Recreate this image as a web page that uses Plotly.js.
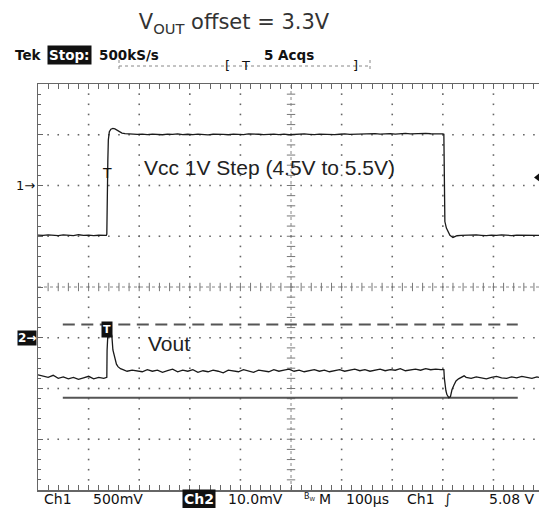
<!DOCTYPE html>
<html><head><meta charset="utf-8">
<script src="https://cdn.plot.ly/plotly-3.0.1.min.js"></script>
<style>html,body{margin:0;padding:0;background:#fff}</style>
</head><body>
<div id="chart" style="width:539px;height:508px"></div>
<script>
// ---- Data (time in µs relative to trigger, Ch1 in V, Ch2 in V) ----
const ch1Time = [-136,-126,-116,-106,-96,-86,-76,-66,-56,-46,-36,-26,-16,-6,-1,
  0,0.5,2,3,5,8,12,16,20,25,30,36,44,52,
  60,70,80,90,100,110,120,130,140,150,
  160,170,180,190,200,210,220,230,240,250,
  260,270,280,290,300,310,320,330,340,350,
  360,370,380,390,400,410,420,430,440,450,
  460,470,480,490,500,510,520,530,540,550,
  560,570,580,590,600,610,620,630,640,650,
  660,
  664,666,666.5,667,668,671,674,678,684,688,692,700,
  710,720,730,740,750,760,770,780,790,800,810,820,830,840,850,854];
const ch1Volts = [4.512,4.508,4.514,4.510,4.506,4.513,4.511,4.507,4.515,4.509,4.512,4.506,4.510,4.508,4.509,
  4.52,4.85,5.25,5.45,5.53,5.555,5.562,5.558,5.545,5.528,5.517,5.511,5.507,5.505,
  5.503,5.506,5.502,5.507,5.504,5.500,5.506,5.503,5.508,5.502,
  5.505,5.501,5.506,5.504,5.499,5.505,5.507,5.503,5.500,5.506,
  5.504,5.502,5.508,5.503,5.505,5.501,5.504,5.507,5.502,5.506,
  5.500,5.505,5.503,5.508,5.504,5.501,5.506,5.503,5.507,5.502,
  5.505,5.509,5.504,5.506,5.510,5.505,5.508,5.511,5.506,5.509,
  5.512,5.507,5.510,5.513,5.508,5.511,5.509,5.513,5.510,5.512,
  5.509,
  5.508,5.505,5.10,4.75,4.645,4.58,4.547,4.51,4.488,4.495,4.505,4.509,
  4.511,4.507,4.513,4.509,4.506,4.512,4.508,4.514,4.510,4.507,4.511,4.509,4.513,4.506,4.510,4.509];

const ch2Time = [-136,-126,-116,-106,-96,-86,-76,-66,-56,-46,-36,-26,-16,-6,-1,
  0,0.5,1.5,3,5,8,10,12,14,16,19,22,27,32,40,50,
  60,70,80,90,100,110,120,130,140,150,
  160,170,180,190,200,210,220,230,240,250,
  260,270,280,290,300,310,320,330,340,350,
  360,370,380,390,400,410,420,430,440,450,
  460,470,480,490,500,510,520,530,540,550,
  560,570,580,590,600,610,620,630,640,650,
  660,
  664,666,667,668,670,672,676,679,682,686,690,695,700,706,
  710,720,730,740,750,760,770,780,790,800,810,820,830,840,850,854];
const ch2Volts = [3.2927,3.2925,3.2922,3.2926,3.2920,3.2923,3.2919,3.2922,3.2918,3.2921,3.2924,3.2919,3.2922,3.2920,3.2921,
  3.2922,3.2975,3.3020,3.3026,3.3022,3.3012,3.3003,3.2976,3.2966,3.2957,3.2948,3.2943,3.2939,3.2937,3.2934,3.2936,
  3.2935,3.2933,3.2937,3.2934,3.2936,3.2932,3.2935,3.2938,3.2933,3.2936,
  3.2934,3.2937,3.2932,3.2935,3.2933,3.2936,3.2934,3.2931,3.2936,3.2935,
  3.2933,3.2937,3.2934,3.2932,3.2936,3.2935,3.2933,3.2937,3.2934,3.2936,
  3.2938,3.2934,3.2936,3.2933,3.2935,3.2937,3.2934,3.2936,3.2933,3.2935,
  3.2937,3.2934,3.2936,3.2938,3.2935,3.2937,3.2934,3.2936,3.2938,3.2935,
  3.2937,3.2936,3.2939,3.2935,3.2937,3.2938,3.2936,3.2939,3.2937,3.2938,
  3.2937,
  3.2938,3.2937,3.2920,3.2907,3.2896,3.2888,3.28818,3.2884,3.28975,3.2907,3.2915,3.2919,3.2921,3.2925,
  3.2922,3.2920,3.2923,3.2921,3.2919,3.2922,3.2924,3.2921,3.2920,3.2923,3.2921,3.2924,3.2922,3.2920,3.2923,3.2922];

// limit lines on Ch2 (V)
const limitTime = [-87, 812];
const upperLimit = [3.3026, 3.3026];
const lowerLimit = [3.2882, 3.2882];

// trigger level (Ch1, V)
const triggerLevel = 5.08;

// ---- Screen geometry (scope graticule) ----
const X0 = -136, DIV_T = 100, XMAX = 854;   // 100 µs/div
const Y1MIN = 2, Y1MAX = 6, DIV_V1 = 0.5;     // Ch1 500 mV/div
const Y2MIN = 3.27, Y2MAX = 3.35;             // Ch2 10 mV/div
const CENTER_T = X0 + 5*DIV_T, CENTER_V = Y1MIN + 4*DIV_V1;

// graticule dots
const gx = [], gy = [];
for (let i = 1; i <= 9; i++) {
  if (i === 5) continue;
  const t = X0 + i*DIV_T;
  for (let k = 1; k < 40; k++) { gx.push(t); gy.push(Y1MIN + k*0.1); }
}
for (let j = 1; j <= 7; j++) {
  if (j === 4) continue;
  const v = Y1MIN + j*DIV_V1;
  for (let k = 1; k*20 + X0 <= XMAX; k++) { gx.push(X0 + k*20); gy.push(v); }
}
const hx = [], hy = [], vx = [], vy = [];
for (let k = 1; k*20 + X0 <= XMAX; k++) { hx.push(X0 + k*20); hy.push(CENTER_V); }
for (let k = 1; k < 40; k++) { vx.push(CENTER_T); vy.push(Y1MIN + k*0.1); }

const traces = [
  {x: gx, y: gy, mode: 'markers', marker: {symbol: 'square', size: 1.6, color: '#666'}, hoverinfo: 'skip', showlegend: false},
  {x: hx, y: hy, mode: 'markers', marker: {symbol: 'line-ns', size: 6, line: {width: 1, color: '#777'}}, hoverinfo: 'skip', showlegend: false},
  {x: vx, y: vy, mode: 'markers', marker: {symbol: 'line-ew', size: 6, line: {width: 1, color: '#777'}}, hoverinfo: 'skip', showlegend: false},
  {x: limitTime, y: upperLimit, yaxis: 'y2', mode: 'lines', line: {color: '#555', width: 2, dash: '12px,6.5px'}, showlegend: false},
  {x: limitTime, y: lowerLimit, yaxis: 'y2', mode: 'lines', line: {color: '#555', width: 2}, showlegend: false},
  {x: ch1Time, y: ch1Volts, mode: 'lines', line: {color: '#1a1a1a', width: 1.3}, showlegend: false, name: 'Ch1'},
  {x: ch2Time, y: ch2Volts, yaxis: 'y2', mode: 'lines', line: {color: '#1a1a1a', width: 1.3}, showlegend: false, name: 'Ch2'},
  {x: [XMAX], y: [triggerLevel], mode: 'markers', marker: {symbol: 'triangle-left', size: 10, color: '#111'}, cliponaxis: false, showlegend: false}
];

// pixel helpers for layout placement (plot area 38..539 x 84..490)
const P = xp => (xp - 38) / 501;
const Q = yp => (490 - yp) / 406;

const hdr = {family: 'DejaVu Sans', size: 13.5, color: '#111', weight: 'bold'};
const ftr = {family: 'DejaVu Sans', size: 14, color: '#111'};

function ann(text, xp, yp, font, extra) {
  return Object.assign({text: text, xref: 'paper', yref: 'paper', x: P(xp), y: Q(yp),
    xanchor: 'left', yanchor: 'middle', showarrow: false, font: font, borderpad: 0}, extra || {});
}

const annotations = [
  ann('Tek', 14, 55, hdr),
  ann('Stop:', 47, 55, Object.assign({}, hdr, {color: '#fff'}), {bgcolor: '#111', borderpad: 1}),
  ann('500kS/s', 98, 55, hdr),
  ann('5 Acqs', 263, 55, hdr),
  ann('[', 224, 66, {family: 'DejaVu Sans', size: 13, color: '#111'}),
  ann('T', 240, 66, {family: 'DejaVu Sans', size: 13, color: '#111'}),
  ann(']', 352, 66, {family: 'DejaVu Sans', size: 13, color: '#111'}),
  ann('Ch1', 43, 499, ftr),
  ann('500mV', 92, 499, ftr),
  ann('Ch2', 182, 499, Object.assign({}, ftr, {color: '#fff', weight: 'bold'}), {bgcolor: '#111', borderpad: 1}),
  ann('10.0mV', 227, 499, ftr),
  ann('B<sub>W</sub>', 303, 497, {family: 'DejaVu Sans', size: 8, color: '#111'}),
  ann('M', 318, 499, ftr),
  ann('100µs', 345, 499, ftr),
  ann('Ch1', 406, 499, ftr),
  ann('∫', 443, 499, ftr),
  ann('5.08 V', 488, 499, ftr),
  ann('Vcc 1V Step (4.5V to 5.5V)', 143, 167, {family: 'Liberation Sans', size: 21, color: '#222'}),
  ann('Vout', 147, 343, {family: 'Liberation Sans', size: 21, color: '#222'}),
  {text: '1→', xref: 'paper', yref: 'y', x: 0, y: 5.0, xanchor: 'right', yanchor: 'middle', xshift: -1,
   showarrow: false, font: {family: 'DejaVu Sans', size: 13, color: '#111'}},
  {text: '2→', xref: 'paper', yref: 'y2', x: 0, y: 3.30, xanchor: 'right', yanchor: 'middle', xshift: -1,
   showarrow: false, bgcolor: '#111', borderpad: 0, font: {family: 'DejaVu Sans', size: 12, color: '#fff', weight: 'bold'}},
  {text: 'T', xref: 'x', yref: 'y', x: -0.5, y: triggerLevel, xanchor: 'center', yanchor: 'bottom', yshift: -6,
   showarrow: false, font: {family: 'DejaVu Sans', size: 14, color: '#111'}},
  {text: 'T', xref: 'x', yref: 'y2', x: 0, y: 3.3016, xanchor: 'center', yanchor: 'middle',
   showarrow: false, bgcolor: '#111', borderpad: 1, font: {family: 'DejaVu Sans', size: 11, color: '#fff', weight: 'bold'}}
];

const shapes = [
  {type: 'line', xref: 'x', yref: 'y', x0: X0, x1: XMAX, y0: CENTER_V, y1: CENTER_V, line: {color: '#888', width: 1, dash: 'dot'}, layer: 'below'},
  {type: 'line', xref: 'x', yref: 'y', x0: CENTER_T, x1: CENTER_T, y0: Y1MIN, y1: Y1MAX, line: {color: '#888', width: 1, dash: 'dot'}, layer: 'below'},
  {type: 'line', xref: 'paper', yref: 'paper', x0: P(119), x1: P(370), y0: Q(66), y1: Q(66), line: {color: '#888', width: 1, dash: 'dot'}},
  {type: 'line', xref: 'paper', yref: 'paper', x0: P(119), x1: P(119), y0: Q(60), y1: Q(71), line: {color: '#888', width: 1, dash: 'dot'}},
  {type: 'line', xref: 'paper', yref: 'paper', x0: P(370), x1: P(370), y0: Q(60), y1: Q(71), line: {color: '#888', width: 1, dash: 'dot'}}
];

const layout = {
  width: 539, height: 508,
  margin: {l: 38, r: 0, t: 84, b: 18},
  paper_bgcolor: '#fff', plot_bgcolor: '#fff',
  title: {text: 'V<sub>OUT</sub> offset = 3.3V', x: 234/539, xref: 'container', xanchor: 'center',
          y: 1 - 22/508, yref: 'container', yanchor: 'middle',
          font: {family: 'DejaVu Sans', size: 21, color: '#333'}},
  xaxis: {range: [X0, XMAX], showgrid: false, zeroline: false, showline: true, linecolor: '#666', linewidth: 1.5,
          mirror: 'allticks', ticks: 'inside', ticklen: 5, tickcolor: '#666', tickwidth: 1,
          tick0: X0, dtick: DIV_T, showticklabels: false,
          minor: {ticks: 'inside', ticklen: 3, tick0: X0, dtick: 20, tickcolor: '#666', showgrid: false}},
  yaxis: {range: [Y1MIN, Y1MAX], showgrid: false, zeroline: false, showline: true, linecolor: '#666', linewidth: 1.5,
          ticks: 'inside', ticklen: 5, tickcolor: '#666', tick0: Y1MIN, dtick: DIV_V1, showticklabels: false,
          minor: {ticks: 'inside', ticklen: 3, tick0: Y1MIN, dtick: 0.1, tickcolor: '#666', showgrid: false}},
  yaxis2: {range: [Y2MIN, Y2MAX], overlaying: 'y', visible: false, showgrid: false, zeroline: false},
  annotations: annotations,
  shapes: shapes,
  showlegend: false
};

Plotly.newPlot('chart', traces, layout, {staticPlot: true, displayModeBar: false});
</script>
</body></html>
